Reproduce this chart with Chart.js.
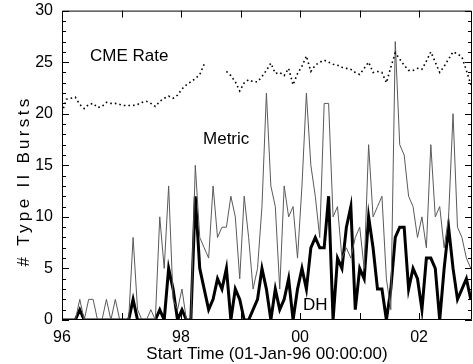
<!DOCTYPE html>
<html>
<head>
<meta charset="utf-8">
<script src="https://cdn.jsdelivr.net/npm/chart.js@4/dist/chart.umd.min.js"></script>
<style>
  html, body { margin: 0; padding: 0; background: #fff; }
</style>
</head>
<body>
<canvas id="grafico-tipo2" width="473" height="364"></canvas>
<script>
// One point per Carrington rotation, counted from 01-Jan-96
const rotation = [
  0, 1, 2, 3, 4, 5, 6, 7, 8, 9, 10, 11, 12, 13, 14, 15, 16, 17, 18, 19,
  20, 21, 22, 23, 24, 25, 26, 27, 28, 29, 30, 31, 32, 33, 34, 35, 36, 37, 38, 39,
  40, 41, 42, 43, 44, 45, 46, 47, 48, 49, 50, 51, 52, 53, 54, 55, 56, 57, 58, 59,
  60, 61, 62, 63, 64, 65, 66, 67, 68, 69, 70, 71, 72, 73, 74, 75, 76, 77, 78, 79,
  80, 81, 82, 83, 84, 85, 86, 87, 88, 89, 90, 91, 92
];
const rotationDays = 27.2753;

// CME rate (null = data gap)
const cmeRate = [
  20.1, 21.4, 21.5, 21.6, 20.9, 20.5, 20.9, 21.0, 20.6, 20.7,
  21.1, 21.0, 21.0, 20.9, 20.8, 20.8, 20.8, 20.9, 21.1, 21.2,
  21.0, 20.7, 21.2, 21.5, 21.7, 21.5, 21.8, 22.4, 22.8, 23.1,
  23.4, 23.8, 24.8, null, null, null, null, 24.1, 23.7, 23.1,
  22.2, 23.0, 23.3, 23.1, 23.1, 23.6, 24.2, 24.9, 23.9, 24.0,
  23.7, 24.4, 22.8, 23.9, 24.6, 25.6, 24.1, 24.7, 25.0, 25.2,
  25.0, 24.8, 24.7, 24.5, 24.4, 24.3, 24.0, 23.8, 24.4, 25.0,
  24.0, 24.1, 24.0, 23.0, 24.5, 25.9, 25.3, 24.7, 24.2, 24.2,
  24.4, 24.3, 25.1, 26.0, 25.0, 24.0, 24.6, 25.3, 26.0, 25.8,
  25.5, 24.2, 22.8
];

// Metric type II bursts
const metric = [
  0, 0, 0, 0, 2, 0, 2, 2, 0, 0,
  2, 0, 2, 0, 0, 0, 8, 1, 0, 0,
  1, 0, 10, 5, 13, 2, 1, 3, 0, 0,
  15, 8, 7, 6, 13, 8, 9, 9, 12, 10,
  4, 12, 8, 3, 5, 11, 22, 13, 11, 3,
  13, 10, 11, 6, 13, 22, 15, 12, 8, 21,
  21, 10, 11, 6, 7, 6, 8, 9, 5, 17,
  10, 11, 12, 4, 1, 27, 17, 16, 12, 11,
  8, 10, 7, 17, 10, 11, 7, 10, 20, 9,
  8, 6, 5
];

// DH type II bursts
const dh = [
  0, 0, 0, 0, 1, 0, 0, 0, 0, 0,
  0, 0, 0, 0, 0, 0, 2, 0, 0, 0,
  0, 0, 1, 0, 5, 3, 0, 1, 0, 0,
  12, 5, 3, 1, 2, 4, 3, 5, 0, 3,
  2, 0, 0, 1, 2, 5, 3, 0, 3, 1,
  2, 4, 0, 3, 5, 3, 7, 8, 7, 7,
  12, 0, 6, 5, 9, 11, 1, 5, 4, 10,
  7, 3, 3, 0, 3, 8, 9, 9, 3, 5,
  4, 1, 6, 6, 5, 0, 5, 9, 5, 2,
  3, 4, 2
];

const yearLabels = ['96', '97', '98', '99', '00', '01', '02', '03'];

// years since 01-Jan-96
const years = rotation.map(r => r * rotationDays / 365.25);
const puntos = serie => serie.map((v, i) => ({ x: years[i], y: v }));

const fuente = 'Liberation Sans, Arial, Helvetica, sans-serif';

// frame, inward ticks and texts
const marco = {
  id: 'marco',
  afterDraw(chart) {
    const c = chart.ctx;
    const a = chart.chartArea;
    const sx = chart.scales.x;
    const sy = chart.scales.y;
    c.save();
    c.strokeStyle = '#000';
    c.lineWidth = 1;
    c.beginPath();
    c.rect(a.left + 0.5, a.top + 0.5, a.right - a.left - 1, a.bottom - a.top - 1);
    for (let v = 0; v <= 30; v++) {
      const py = Math.round(sy.getPixelForValue(v)) + 0.5;
      const len = v % 5 === 0 ? 7 : 4;
      c.moveTo(a.left, py); c.lineTo(a.left + len, py);
      c.moveTo(a.right, py); c.lineTo(a.right - len, py);
    }
    for (let yr = 1; yr <= 6; yr++) {
      const px = Math.round(sx.getPixelForValue(yr)) + 0.5;
      c.moveTo(px, a.bottom); c.lineTo(px, a.bottom - 7);
      c.moveTo(px, a.top); c.lineTo(px, a.top + 7);
    }
    c.stroke();

    c.fillStyle = '#000';
    c.font = '17px ' + fuente;
    c.textBaseline = 'middle';
    c.textAlign = 'left';
    c.fillText('CME Rate', sx.getPixelForValue(0.47), sy.getPixelForValue(25.6));
    c.fillText('Metric', sx.getPixelForValue(2.37), sy.getPixelForValue(17.5));
    c.fillText('DH', sx.getPixelForValue(4.05), sy.getPixelForValue(1.44));

    c.textAlign = 'center';
    c.fillText('Start Time (01-Jan-96 00:00:00)', (a.left + a.right) / 2, 354);
    c.translate(24, 181);
    c.rotate(-Math.PI / 2);
    c.letterSpacing = '3.3px';
    c.fillText('# Type II Bursts', 0, 0);
    c.restore();
  }
};

const ctx = document.getElementById('grafico-tipo2').getContext('2d');
new Chart(ctx, {
  type: 'line',
  data: {
    datasets: [
      {
        label: 'CME Rate',
        data: puntos(cmeRate),
        borderColor: '#000',
        borderWidth: 1.6,
        borderDash: [1.6, 3],
        spanGaps: false
      },
      {
        label: 'Metric',
        data: puntos(metric),
        borderColor: '#5a5a5a',
        borderWidth: 1
      },
      {
        label: 'DH',
        data: puntos(dh),
        borderColor: '#000',
        borderWidth: 3
      }
    ]
  },
  options: {
    responsive: false,
    animation: false,
    layout: { padding: { top: -1, right: 1, bottom: 0, left: 0 } },
    elements: { point: { radius: 0 }, line: { tension: 0 } },
    plugins: { legend: { display: false }, tooltip: { enabled: false } },
    scales: {
      x: {
        type: 'linear',
        min: 0,
        max: 6.89,
        grid: { display: false },
        border: { display: false },
        afterFit: s => { s.height = 44; },
        ticks: {
          stepSize: 1,
          includeBounds: false,
          autoSkip: false,
          maxRotation: 0,
          padding: 0,
          color: '#000',
          font: { family: fuente, size: 16 },
          callback: v => (Number.isInteger(v) && v % 2 === 0) ? yearLabels[v] : ''
        }
      },
      y: {
        min: 0,
        max: 30,
        grid: { display: false },
        border: { display: false },
        afterFit: s => { s.width = 62; },
        ticks: {
          stepSize: 5,
          padding: 1,
          color: '#000',
          font: { family: fuente, size: 16 }
        }
      }
    }
  },
  plugins: [marco]
});
</script>
</body>
</html>
